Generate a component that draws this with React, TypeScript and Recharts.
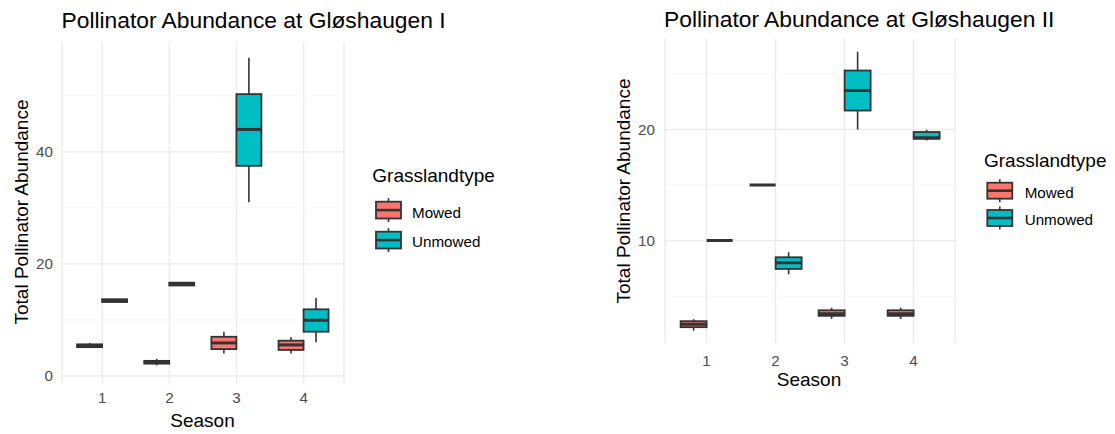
import React from 'react';
import { ComposedChart, Bar, XAxis, YAxis, CartesianGrid } from 'recharts';

const FONT = '"Liberation Sans", Arial, Helvetica, sans-serif';
const MOWED_FILL = '#F8766D';
const UNMOWED_FILL = '#00BFC4';
const BOX_STROKE = '#333333';
const GRID_MAJOR = '#EBEBEB';
const GRID_MINOR = '#F2F2F2';
const TICK_COLOR = '#4D4D4D';

const seasons = ['1', '2', '3', '4'];
const grasslandTypes = ['Mowed', 'Unmowed'];

// Gløshaugen I
const iMowedMin = [5.0, 1.9, 4.0, 4.0];
const iMowedQ1 = [5.15, 2.2, 4.8, 4.65];
const iMowedMedian = [5.4, 2.45, 5.9, 5.55];
const iMowedQ3 = [5.65, 2.7, 7.0, 6.3];
const iMowedMax = [5.9, 3.05, 7.9, 6.9];
const iUnmowedMin = [13.2, 16.15, 31.0, 6.0];
const iUnmowedQ1 = [13.2, 16.15, 37.5, 7.9];
const iUnmowedMedian = [13.45, 16.4, 44.0, 9.95];
const iUnmowedQ3 = [13.7, 16.65, 50.3, 11.9];
const iUnmowedMax = [13.7, 16.65, 56.8, 13.9];

// Gløshaugen II
const iiMowedMin = [1.89, 14.95, 2.95, 2.95];
const iiMowedQ1 = [2.21, 15.0, 3.23, 3.23];
const iiMowedMedian = [2.47, 15.0, 3.42, 3.42];
const iiMowedQ3 = [2.75, 15.0, 3.73, 3.73];
const iiMowedMax = [2.92, 15.05, 3.95, 3.95];
const iiUnmowedMin = [9.95, 6.97, 20.0, 19.0];
const iiUnmowedQ1 = [10.0, 7.45, 21.7, 19.16];
const iiUnmowedMedian = [10.0, 8.0, 23.5, 19.25];
const iiUnmowedQ3 = [10.0, 8.5, 25.3, 19.77];
const iiUnmowedMax = [10.05, 8.95, 27.0, 19.97];

const iMajorTicks = [0, 20, 40];
const iMinorTicks = [10, 30, 50];
const iDomain = [-1.25, 59.6];
const iiMajorTicks = [10, 20];
const iiMinorTicks = [5, 15, 25];
const iiDomain = [0.76, 28.2];

type Stats = { min: number[]; q1: number[]; med: number[]; q3: number[]; max: number[] };

function buildRows(m: Stats, u: Stats) {
  return seasons.map((s, i) => ({
    season: s,
    m: { min: m.min[i], q1: m.q1[i], med: m.med[i], q3: m.q3[i], max: m.max[i] },
    u: { min: u.min[i], q1: u.q1[i], med: u.med[i], q3: u.q3[i], max: u.max[i] },
    mRange: [m.min[i], m.max[i]],
    uRange: [u.min[i], u.max[i]],
  }));
}

const rowsI = buildRows(
  { min: iMowedMin, q1: iMowedQ1, med: iMowedMedian, q3: iMowedQ3, max: iMowedMax },
  { min: iUnmowedMin, q1: iUnmowedQ1, med: iUnmowedMedian, q3: iUnmowedQ3, max: iUnmowedMax }
);
const rowsII = buildRows(
  { min: iiMowedMin, q1: iiMowedQ1, med: iiMowedMedian, q3: iiMowedQ3, max: iiMowedMax },
  { min: iiUnmowedMin, q1: iiUnmowedQ1, med: iiUnmowedMedian, q3: iiUnmowedQ3, max: iiUnmowedMax }
);

function makeBoxShape(key: 'm' | 'u', fill: string) {
  return (props: any) => {
    const { x, y, width, height, payload } = props;
    const st = payload && payload[key];
    if (!st || x == null || y == null) return <g />;
    const top = Math.min(y, y + height);
    const bottom = Math.max(y, y + height);
    const span = st.max - st.min;
    if (!(span > 0)) return <g />;
    const k = (bottom - top) / span;
    const py = (v: number) => bottom - (v - st.min) * k;
    const cx = x + width / 2;
    const yq1 = py(st.q1);
    const yq3 = py(st.q3);
    const ymed = py(st.med);
    return (
      <g>
        <line x1={cx} x2={cx} y1={py(st.max)} y2={yq3} stroke={BOX_STROKE} strokeWidth={1.6} />
        <line x1={cx} x2={cx} y1={yq1} y2={py(st.min)} stroke={BOX_STROKE} strokeWidth={1.6} />
        <rect x={x} y={yq3} width={width} height={Math.max(0, yq1 - yq3)} fill={fill} stroke={BOX_STROKE} strokeWidth={1.8} />
        <line x1={x} x2={x + width} y1={ymed} y2={ymed} stroke={BOX_STROKE} strokeWidth={3} />
      </g>
    );
  };
}

const tickStyle = { fill: TICK_COLOR, fontSize: 15.2, fontFamily: FONT };

function Panel(props: {
  rows: any[];
  width: number;
  height: number;
  margin: any;
  yWidth: number;
  xHeight: number;
  domain: number[];
  major: number[];
  minor: number[];
  pad: number;
  yTickMargin: number;
  xTickMargin: number;
}) {
  const { rows, width, height, margin, yWidth, xHeight, domain, major, minor, pad, yTickMargin, xTickMargin } = props;
  return (
    <ComposedChart width={width} height={height} data={rows} margin={margin} barCategoryGap="12.5%" barGap={0}>
      <CartesianGrid vertical={false} horizontalValues={minor} stroke={GRID_MINOR} strokeWidth={0.8} strokeDasharray="" />
      <CartesianGrid horizontalValues={major} stroke={GRID_MAJOR} strokeWidth={1.4} strokeDasharray="" />
      <XAxis
        dataKey="season"
        type="category"
        padding={{ left: pad, right: pad }}
        axisLine={false}
        tickLine={false}
        tickSize={0}
        tickMargin={xTickMargin}
        height={xHeight}
        interval={0}
        tick={tickStyle}
      />
      <YAxis
        type="number"
        domain={domain}
        allowDataOverflow={true}
        ticks={major}
        axisLine={false}
        tickLine={false}
        tickSize={0}
        tickMargin={yTickMargin}
        width={yWidth}
        tick={tickStyle}
      />
      <Bar dataKey="mRange" name={grasslandTypes[0]} fill={MOWED_FILL} isAnimationActive={false} shape={makeBoxShape('m', MOWED_FILL)} />
      <Bar dataKey="uRange" name={grasslandTypes[1]} fill={UNMOWED_FILL} isAnimationActive={false} shape={makeBoxShape('u', UNMOWED_FILL)} />
    </ComposedChart>
  );
}

function LegendKey(props: { x: number; y: number; w: number; h: number; fill: string }) {
  const { x, y, w, h, fill } = props;
  return (
    <g>
      <line x1={x + w / 2} x2={x + w / 2} y1={y - 3.5} y2={y + h + 3.5} stroke={BOX_STROKE} strokeWidth={1.6} />
      <rect x={x} y={y} width={w} height={h} fill={fill} stroke={BOX_STROKE} strokeWidth={1.8} />
      <line x1={x} x2={x + w} y1={y + h / 2} y2={y + h / 2} stroke={BOX_STROKE} strokeWidth={2.6} />
    </g>
  );
}

function GroupLegend(props: { x: number; titleY: number; keyX: number; keyYs: number[]; keyH: number; textX: number; textYs: number[] }) {
  const { x, titleY, keyX, keyYs, keyH, textX, textYs } = props;
  const fills = [MOWED_FILL, UNMOWED_FILL];
  return (
    <g>
      <text x={x} y={titleY} fontSize={19} fontFamily={FONT} fill="#000">Grasslandtype</text>
      {grasslandTypes.map((g, i) => (
        <g key={g}>
          <LegendKey x={keyX} y={keyYs[i]} w={25} h={keyH} fill={fills[i]} />
          <text x={textX} y={textYs[i]} fontSize={15.2} fontFamily={FONT} fill="#000">{g}</text>
        </g>
      ))}
    </g>
  );
}

export default function App() {
  return (
    <div style={{ position: 'absolute', left: 0, top: 0, width: 1115, height: 434, background: '#fff', overflow: 'hidden' }}>
      <div style={{ position: 'absolute', left: 0, top: 0 }}>
        <Panel
          rows={rowsI}
          width={560}
          height={434}
          margin={{ top: 42, right: 216, bottom: 0, left: 0 }}
          yWidth={62}
          xHeight={51}
          domain={iDomain}
          major={iMajorTicks}
          minor={iMinorTicks}
          pad={6.7}
          yTickMargin={9}
          xTickMargin={9}
        />
      </div>
      <div style={{ position: 'absolute', left: 560, top: 0 }}>
        <Panel
          rows={rowsII}
          width={555}
          height={434}
          margin={{ top: 38.3, right: 160, bottom: 60.7, left: 45 }}
          yWidth={60}
          xHeight={30}
          domain={iiDomain}
          major={iiMajorTicks}
          minor={iiMinorTicks}
          pad={7}
          yTickMargin={10}
          xTickMargin={11.5}
        />
      </div>
      <svg width={1115} height={434} style={{ position: 'absolute', left: 0, top: 0, pointerEvents: 'none' }}>
        <text x={61.5} y={28.3} fontSize={22.8} fontFamily={FONT} fill="#000">Pollinator Abundance at Gløshaugen I</text>
        <text x={664} y={26.7} fontSize={22.8} fontFamily={FONT} fill="#000">Pollinator Abundance at Gløshaugen II</text>
        <text transform="translate(28,212) rotate(-90)" textAnchor="middle" fontSize={19} fontFamily={FONT} fill="#000">Total Pollinator Abundance</text>
        <text transform="translate(630,191) rotate(-90)" textAnchor="middle" fontSize={19} fontFamily={FONT} fill="#000">Total Pollinator Abundance</text>
        <text x={202.5} y={427} textAnchor="middle" fontSize={19} fontFamily={FONT} fill="#000">Season</text>
        <text x={809} y={386} textAnchor="middle" fontSize={19} fontFamily={FONT} fill="#000">Season</text>
        <GroupLegend x={372.3} titleY={182} keyX={376} keyYs={[201.7, 231.7]} keyH={16.8} textX={412} textYs={[217.7, 247.1]} />
        <GroupLegend x={984} titleY={166.7} keyX={987.3} keyYs={[182.7, 210]} keyH={16} textX={1024.7} textYs={[197.7, 224.7]} />
      </svg>
    </div>
  );
}
